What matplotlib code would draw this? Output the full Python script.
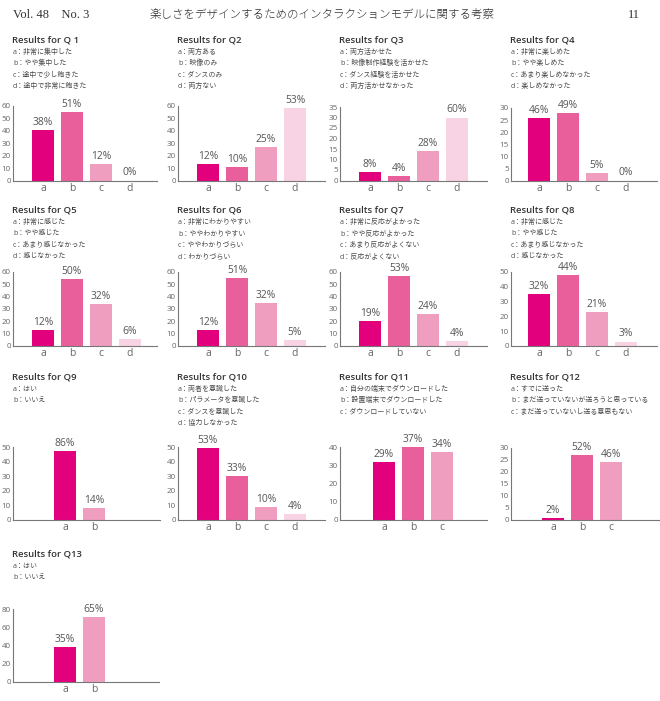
import matplotlib.pyplot as plt

plt.rcParams['font.family'] = ['Open Sans', 'Noto Sans CJK JP', 'DejaVu Sans']

W, H = 660, 701

# Survey answers: counts, percentages printed above them
q1_opts = ["a：非常に集中した", "b：やや集中した", "c：途中で少し飽きた", "d：途中で非常に飽きた"]
q1_vals = [41, 55, 13, 0]
q1_pct = ["38%", "51%", "12%", "0%"]

q2_opts = ["a：両方ある", "b：映像のみ", "c：ダンスのみ", "d：両方ない"]
q2_vals = [13, 11, 27, 58]
q2_pct = ["12%", "10%", "25%", "53%"]

q3_opts = ["a：両方活かせた", "b：映像制作経験を活かせた", "c：ダンス経験を活かせた", "d：両方活かせなかった"]
q3_vals = [4, 2, 14, 30]
q3_pct = ["8%", "4%", "28%", "60%"]

q4_opts = ["a：非常に楽しめた", "b：やや楽しめた", "c：あまり楽しめなかった", "d：楽しめなかった"]
q4_vals = [26, 28, 3, 0]
q4_pct = ["46%", "49%", "5%", "0%"]

q5_opts = ["a：非常に感じた", "b：やや感じた", "c：あまり感じなかった", "d：感じなかった"]
q5_vals = [13, 54, 34, 6]
q5_pct = ["12%", "50%", "32%", "6%"]

q6_opts = ["a：非常にわかりやすい", "b：ややわかりやすい", "c：ややわかりづらい", "d：わかりづらい"]
q6_vals = [13, 55, 35, 5]
q6_pct = ["12%", "51%", "32%", "5%"]

q7_opts = ["a：非常に反応がよかった", "b：やや反応がよかった", "c：あまり反応がよくない", "d：反応がよくない"]
q7_vals = [20, 57, 26, 4]
q7_pct = ["19%", "53%", "24%", "4%"]

q8_opts = ["a：非常に感じた", "b：やや感じた", "c：あまり感じなかった", "d：感じなかった"]
q8_vals = [35, 48, 23, 3]
q8_pct = ["32%", "44%", "21%", "3%"]

q9_opts = ["a：はい", "b：いいえ"]
q9_vals = [47, 8]
q9_pct = ["86%", "14%"]

q10_opts = ["a：両者を意識した", "b：パラメータを意識した", "c：ダンスを意識した", "d：協力しなかった"]
q10_vals = [49, 30, 9, 4]
q10_pct = ["53%", "33%", "10%", "4%"]

q11_opts = ["a：自分の端末でダウンロードした", "b：設置端末でダウンロードした", "c：ダウンロードしていない"]
q11_vals = [32, 40, 37]
q11_pct = ["29%", "37%", "34%"]

q12_opts = ["a：すでに送った", "b：まだ送っていないが送ろうと思っている", "c：まだ送っていないし送る意思もない"]
q12_vals = [1, 27, 24]
q12_pct = ["2%", "52%", "46%"]

q13_opts = ["a：はい", "b：いいえ"]
q13_vals = [38, 71]
q13_pct = ["35%", "65%"]

deep, mid, light, pale = "#e3007d", "#e95f9c", "#f09ebf", "#f8d3e3"
four_colors = [deep, mid, light, pale]

# layout: title, options, values, pct, ymax, step, colors,
#         axis left/right px, title y px, axis top/bottom px, first-bar offset px
panels = [
    ("Results for Q 1", q1_opts, q1_vals, q1_pct, 60, 10, four_colors, 13, 157, 40, 106, 180.5, 30),
    ("Results for Q2", q2_opts, q2_vals, q2_pct, 60, 10, four_colors, 178, 325, 40, 106, 180.5, 30),
    ("Results for Q3", q3_opts, q3_vals, q3_pct, 35, 5, four_colors, 340, 487, 40, 107, 180.5, 30),
    ("Results for Q4", q4_opts, q4_vals, q4_pct, 30, 5, four_colors, 511, 657, 40, 108, 180.5, 28),
    ("Results for Q5", q5_opts, q5_vals, q5_pct, 60, 10, four_colors, 13, 157, 210, 272, 346, 30),
    ("Results for Q6", q6_opts, q6_vals, q6_pct, 60, 10, four_colors, 178, 325, 210, 272, 346, 30),
    ("Results for Q7", q7_opts, q7_vals, q7_pct, 60, 10, four_colors, 340, 487, 210, 272, 346, 30),
    ("Results for Q8", q8_opts, q8_vals, q8_pct, 50, 10, four_colors, 511, 657, 210, 272, 346, 28),
    ("Results for Q9", q9_opts, q9_vals, q9_pct, 50, 10, [deep, light], 13, 160, 377, 447, 520, 52),
    ("Results for Q10", q10_opts, q10_vals, q10_pct, 50, 10, four_colors, 178, 325, 377, 447, 520, 30),
    ("Results for Q11", q11_opts, q11_vals, q11_pct, 40, 10, [deep, mid, light], 340, 487, 377, 447, 520, 44),
    ("Results for Q12", q12_opts, q12_vals, q12_pct, 30, 5, [deep, mid, light], 511, 659, 377, 448, 520, 42),
    ("Results for Q13", q13_opts, q13_vals, q13_pct, 80, 20, [deep, light], 13, 159, 554, 609, 682, 52),
]

fig = plt.figure(figsize=(W / 100, H / 100), dpi=100)
fig.patch.set_facecolor("white")

# page header
fig.text(13 / W, 1 - 15 / H, "Vol. 48    No. 3", family=["Liberation Serif"],
         fontsize=9, color="#333", va="center")
fig.text(322 / W, 1 - 15 / H, "楽しさをデザインするためのインタラクションモデルに関する考察",
         family=["Noto Sans CJK JP"], fontweight="light", fontsize=8.3, color="#333",
         ha="center", va="center")
fig.text(640 / W, 1 - 15 / H, "11", family=["Liberation Serif"],
         fontsize=9, color="#333", ha="right", va="center")

sp = 29.0  # px between bar centres
for (title, opts, vals, pct, ymax, step, cols,
     xl, xr, ty, yt, yb, off) in panels:
    fig.text((xl - 1) / W, 1 - ty / H, title, fontsize=6.8, fontweight="semibold",
             color="#333", va="center")
    for i, o in enumerate(opts):
        fig.text(xl / W, 1 - (ty + 12 + 11.6 * i) / H, o, fontsize=5,
                 color="#4a4a4a", va="center")

    ax = fig.add_axes([xl / W, 1 - yb / H, (xr - xl) / W, (yb - yt) / H])
    n = len(vals)
    x = list(range(n))
    ax.bar(x, vals, width=0.76, color=cols[:n], clip_on=False)
    for xi, v, p in zip(x, vals, pct):
        ax.annotate(p, (xi, v), xytext=(0, 1.5), textcoords="offset points",
                    ha="center", va="bottom", fontsize=7.4, color="#555")
    ax.set_xlim(-off / sp, (xr - xl - off) / sp)
    ax.set_ylim(0, ymax)
    ax.set_yticks(range(0, ymax + 1, step))
    ax.set_xticks(x)
    ax.set_xticklabels(["a", "b", "c", "d"][:n])
    ax.tick_params(axis="y", length=0, pad=1.5, labelsize=5.8, labelcolor="#666")
    ax.tick_params(axis="x", length=0, pad=1.5, labelsize=7.5, labelcolor="#666")
    for s in ("top", "right"):
        ax.spines[s].set_visible(False)
    for s in ("left", "bottom"):
        ax.spines[s].set_color("#777")
        ax.spines[s].set_linewidth(0.8)
    ax.set_facecolor("none")

fig.savefig("out.png", dpi=100)
